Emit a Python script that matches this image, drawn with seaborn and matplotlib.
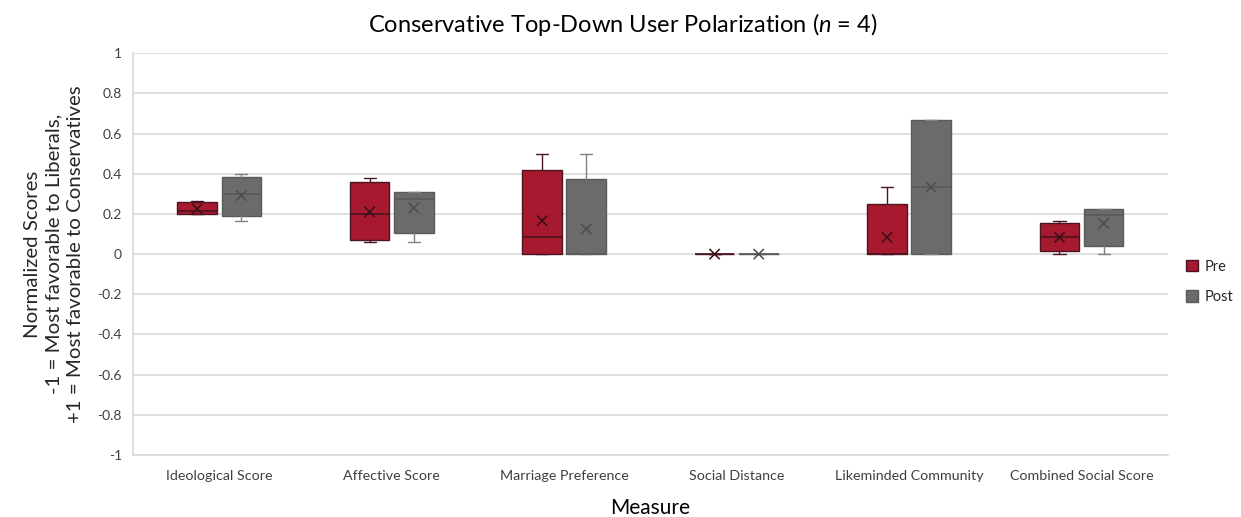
import numpy as np
import pandas as pd
import matplotlib.pyplot as plt
import seaborn as sns
from matplotlib.patches import Patch

measures = ["Ideological Score", "Affective Score", "Marriage Preference",
            "Social Distance", "Likeminded Community", "Combined Social Score"]
phases = ["Pre", "Post"]

pre_scores = [
    [0.20, 0.20, 0.2333, 0.2667],
    [0.06, 0.10, 0.30, 0.38],
    [0.0, 0.0, 0.1667, 0.50],
    [0.0, 0.0, 0.0, 0.0],
    [0.0, 0.0, 0.0, 0.3333],
    [0.0, 0.0556, 0.1111, 0.1667],
]
post_scores = [
    [0.1667, 0.2667, 0.3333, 0.40],
    [0.06, 0.25, 0.30, 0.31],
    [0.0, 0.0, 0.0, 0.50],
    [0.0, 0.0, 0.0, 0.0],
    [0.0, 0.0, 0.6667, 0.6667],
    [0.0, 0.1667, 0.2222, 0.2222],
]

fills = {"Pre": "#A6192E", "Post": "#6B6B6B"}
edges = {"Pre": "#4A1420", "Post": "#5A5A5A"}
whisk = {"Pre": "#4A1420", "Post": "#808080"}
marks = {"Pre": "#3A0E16", "Post": "#4D4D4D"}


def excel_stats(vals):
    # Excel box & whisker uses exclusive quartiles (Hyndman-Fan type 6)
    v = np.asarray(vals, dtype=float)
    q1, med, q3 = np.percentile(v, [25, 50, 75], method="weibull")
    iqr = q3 - q1
    lo = v[v >= q1 - 1.5 * iqr].min()
    hi = v[v <= q3 + 1.5 * iqr].max()
    return dict(q1=q1, med=med, q3=q3, whislo=lo, whishi=hi, mean=v.mean(), fliers=[])


sns.set_theme(style="whitegrid")
plt.rcParams["font.family"] = ["Lato", "DejaVu Sans"]
plt.rcParams["mathtext.fontset"] = "custom"
plt.rcParams["mathtext.rm"] = "Lato"
plt.rcParams["mathtext.it"] = "Lato:italic"

fig, ax = plt.subplots(figsize=(12.41, 5.17), dpi=100)
fig.subplots_adjust(left=0.1072, right=0.941, top=0.897, bottom=0.12)

offset, width = 0.128, 0.23
rows = []
for phase, scores in zip(phases, [pre_scores, post_scores]):
    stats = [excel_stats(s) for s in scores]
    pos = np.arange(len(measures)) + (-offset if phase == "Pre" else offset)
    ax.bxp(stats, positions=pos, widths=width, capwidths=0.07, showfliers=False,
           patch_artist=True, manage_ticks=False,
           boxprops=dict(facecolor=fills[phase], edgecolor=edges[phase], linewidth=1),
           medianprops=dict(color=edges[phase], linewidth=1.2),
           whiskerprops=dict(color=whisk[phase], linewidth=1),
           capprops=dict(color=whisk[phase], linewidth=1))
    for p, st in zip(pos, stats):
        rows.append({"pos": p, "mean": st["mean"], "phase": phase})

means = pd.DataFrame(rows)
sns.scatterplot(data=means, x="pos", y="mean", hue="phase", palette=marks,
                marker="x", s=55, linewidth=1.1, legend=False, ax=ax, zorder=5)

ax.set_xlim(-0.5, len(measures) - 0.5)
ax.set_ylim(-1, 1)
yt = np.round(np.arange(-1, 1.01, 0.2), 1) + 0.0
ax.set_yticks(yt)
ax.set_yticklabels([f"{v:g}" if abs(v) > 1e-9 else "0" for v in yt],
                   fontsize=10, color="#404040")
ax.set_xticks(range(len(measures)))
ax.set_xticklabels(measures, fontsize=10.3, color="#404040")
ax.tick_params(axis="x", length=0, pad=11)
ax.tick_params(axis="y", length=0, pad=8)
ax.grid(axis="x", visible=False)
ax.grid(axis="y", color="#D9D9D9", linewidth=1.2)
for s in ["top", "right"]:
    ax.spines[s].set_visible(False)
for s in ["left", "bottom"]:
    ax.spines[s].set_color("#D9D9D9")
    ax.spines[s].set_linewidth(1.2)
ax.set_xlabel("")
ax.set_ylabel("")

fig.text(0.502, 1 - 24 / 517, r"Conservative Top-Down User Polarization ($\mathit{n}$ = 4)",
         ha="center", va="center", fontsize=17, color="#000000")
fig.text(650 / 1241, 1 - 508 / 517, "Measure", ha="center", va="center",
         fontsize=15, color="#000000")
fig.text(54 / 1241, 1 - 254 / 517,
         "Normalized Scores\n-1 = Most favorable to Liberals,\n+1 = Most favorable to Conservatives",
         ha="center", va="center", rotation=90, fontsize=14.7, linespacing=1.3)

handles = [Patch(facecolor=fills[p], edgecolor=edges[p], label=p) for p in phases]
fig.legend(handles=handles, loc="center left", bbox_to_anchor=(1173 / 1241, 1 - 282 / 517),
           frameon=False, fontsize=10.5, handlelength=0.8, handleheight=0.8,
           handletextpad=0.5, labelspacing=1.1)

fig.savefig("out.png", dpi=100)
